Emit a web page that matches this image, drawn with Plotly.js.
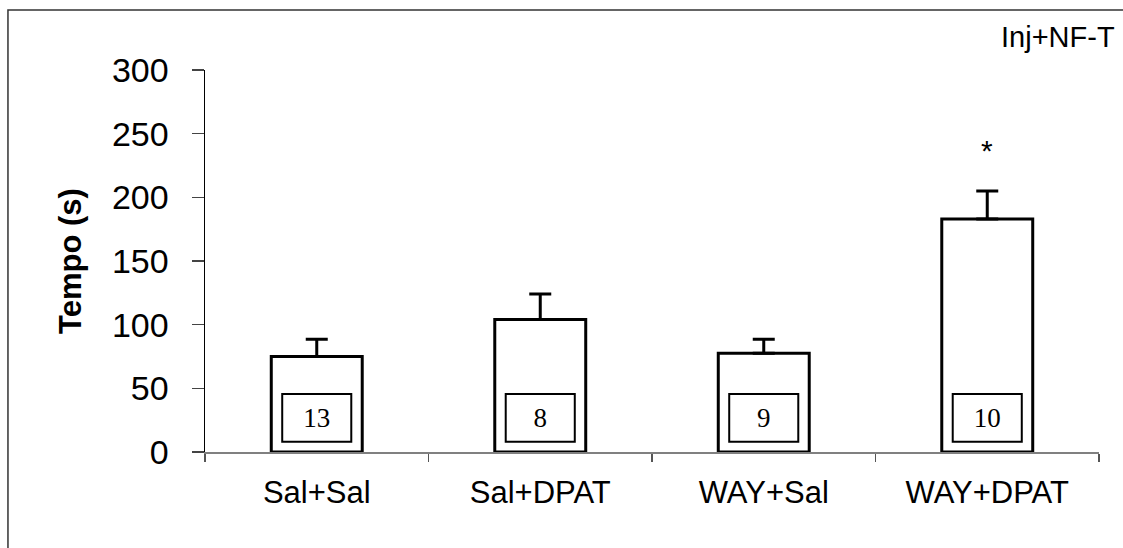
<!DOCTYPE html>
<html>
<head>
<meta charset="utf-8">
<script src="https://cdn.plot.ly/plotly-3.0.1.min.js"></script>
<style>html,body{margin:0;padding:0;background:#fff;}#chart{width:1123px;height:548px;}</style>
</head>
<body>
<div id="chart"></div>
<script>
// Data
const groups = ["Sal+Sal", "Sal+DPAT", "WAY+Sal", "WAY+DPAT"];
const means = [75, 104, 77.5, 183];
const sem = [13.5, 20, 11, 22];
const nValues = ["13", "8", "9", "10"];
const significance = ["", "", "", "*"];
const yTicks = [0, 50, 100, 150, 200, 250, 300];
const panelLabel = "Inj+NF-T";
const yTitle = "Tempo (s)";

// n-box placement (visual constants)
const nBoxBase = 8;
const nBoxHeight = 37.5;

const sans = "Liberation Sans, Arial, sans-serif";
const serif = "Liberation Serif, Times New Roman, serif";

const traces = [
  {
    type: "bar",
    x: groups,
    y: means,
    width: 0.407,
    marker: {color: "#ffffff", line: {color: "#000000", width: 3}},
    error_y: {
      type: "data", symmetric: false, array: sem,
      arrayminus: sem.map(() => 0),
      color: "#000000", thickness: 3, width: 11
    },
    hoverinfo: "skip",
    showlegend: false
  },
  {
    type: "bar",
    x: groups,
    y: groups.map(() => nBoxHeight),
    base: groups.map(() => nBoxBase),
    width: 0.309,
    marker: {color: "#ffffff", line: {color: "#000000", width: 2}},
    text: nValues,
    textposition: "inside",
    insidetextanchor: "middle",
    constraintext: "none",
    textangle: 0,
    textfont: {family: serif, size: 27, color: "#000000"},
    hoverinfo: "skip",
    showlegend: false
  }
];

const annotations = [
  {
    text: panelLabel, xref: "paper", yref: "paper",
    x: 1, y: 1.0864, xanchor: "right", yanchor: "middle", xshift: 18,
    showarrow: false, font: {family: sans, size: 29, color: "#000"}
  },
  {
    text: "<b>" + yTitle + "</b>", xref: "paper", yref: "paper",
    x: 0, y: 0.5, xanchor: "center", yanchor: "middle", xshift: -135,
    textangle: -90, showarrow: false,
    font: {family: sans, size: 31, color: "#000"}
  }
];
groups.forEach((g, i) => {
  if (significance[i]) {
    annotations.push({
      text: significance[i], x: g, y: means[i] + sem[i], xref: "x", yref: "y",
      yanchor: "bottom", yshift: 22, showarrow: false,
      font: {family: sans, size: 30, color: "#000"}
    });
  }
});

const layout = {
  width: 1123, height: 548,
  margin: {l: 205, r: 24, t: 70, b: 96, pad: 0},
  paper_bgcolor: "#ffffff", plot_bgcolor: "#ffffff",
  barmode: "overlay",
  xaxis: {
    type: "category",
    range: [-0.5, 3.5],
    showline: true, linecolor: "#808080", linewidth: 1.5,
    ticks: "outside", tickson: "boundaries", ticklen: 8, tickcolor: "#555", tickwidth: 1.5,
    showgrid: false, zeroline: false,
    tickfont: {family: sans, size: 31, color: "#000"},
    ticklabelstandoff: 12,
    fixedrange: true
  },
  yaxis: {
    range: [0, 300],
    tickvals: yTicks,
    ticktext: yTicks.map(String),
    showline: true, linecolor: "#000000", linewidth: 1.5,
    ticks: "outside", ticklen: 12, tickcolor: "#444", tickwidth: 1.5,
    showgrid: false, zeroline: false,
    tickfont: {family: sans, size: 34, color: "#000"},
    ticklabelstandoff: 16,
    fixedrange: true
  },
  shapes: [
    {type: "rect", xref: "paper", yref: "paper",
     x0: -0.2204, x1: 2, y0: -1, y1: 1.157,
     line: {color: "#333", width: 1.5}, fillcolor: "rgba(0,0,0,0)", layer: "below"}
  ],
  annotations: annotations
};

Plotly.newPlot("chart", traces, layout, {displayModeBar: false, staticPlot: true});
</script>
</body>
</html>
